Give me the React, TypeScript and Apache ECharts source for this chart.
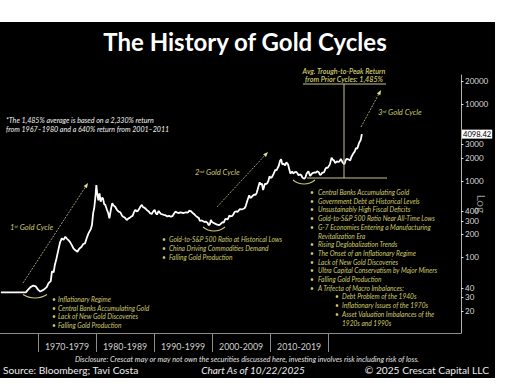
import React, { useEffect, useRef } from "react";
import * as echarts from "echarts";

// ---- data ----
const years = [
  1963.6, 1967.9, 1968.3, 1968.7, 1969.2, 1969.6, 1970.0, 1970.4, 1971.0, 1971.5, 1971.8, 1972.2, 1972.4, 1972.7, 1972.9,
  1973.2, 1973.5, 1973.8, 1974.1, 1974.4, 1974.7, 1975.0, 1975.2, 1975.5, 1975.8, 1976.1, 1976.4, 1976.8, 1977.1, 1977.5,
  1977.8, 1978.1, 1978.4, 1978.7, 1979.1, 1979.3, 1979.5, 1979.7, 1979.9, 1980.05, 1980.2, 1980.4, 1980.6, 1980.8, 1981.0,
  1981.2, 1981.4, 1981.6, 1981.9, 1982.1, 1982.3, 1982.6, 1982.8, 1983.0, 1983.3, 1983.6, 1983.9, 1984.2, 1984.5, 1984.7,
  1985.0, 1985.3, 1985.6, 1985.8, 1986.1, 1986.3, 1986.6, 1986.8, 1987.0, 1987.2, 1987.5, 1987.7, 1987.9, 1988.1, 1988.3,
  1988.6, 1988.8, 1989.1, 1989.3, 1989.6, 1989.8, 1990.1, 1990.3, 1990.5, 1990.8, 1991.0, 1991.2, 1991.5, 1991.7, 1992.0,
  1992.3, 1992.6, 1992.9, 1993.2, 1993.4, 1993.7, 1994.0, 1994.3, 1994.5, 1994.8, 1995.0, 1995.3, 1995.5, 1995.8, 1996.1,
  1996.4, 1996.6, 1996.9, 1997.2, 1997.5, 1997.7, 1997.9, 1998.2, 1998.4, 1998.7, 1998.9, 1999.2, 1999.4, 1999.6, 1999.8,
  2000.0, 2000.2, 2000.6, 2000.9, 2001.2, 2001.4, 2001.8, 2002.0, 2002.3, 2002.7, 2003.0, 2003.1, 2003.5, 2003.7, 2003.9,
  2004.2, 2004.4, 2004.8, 2005.0, 2005.3, 2005.6, 2005.8, 2006.1, 2006.4, 2006.6, 2006.8, 2007.0, 2007.3, 2007.5, 2007.7,
  2007.9, 2008.2, 2008.4, 2008.6, 2008.8, 2009.1, 2009.3, 2009.5, 2009.7, 2009.9, 2010.1, 2010.3, 2010.6, 2010.9, 2011.1,
  2011.3, 2011.5, 2011.7, 2011.9, 2012.1, 2012.3, 2012.6, 2012.8, 2013.1, 2013.3, 2013.5, 2013.8, 2014.0, 2014.2, 2014.5,
  2014.7, 2014.9, 2015.2, 2015.4, 2015.6, 2015.9, 2016.1, 2016.3, 2016.6, 2016.9, 2017.1, 2017.3, 2017.7, 2017.9, 2018.1,
  2018.4, 2018.6, 2018.8, 2019.0, 2019.3, 2019.5, 2019.7, 2019.9, 2020.1, 2020.3, 2020.6, 2020.8, 2021.0, 2021.2, 2021.5,
  2021.7, 2021.9, 2022.2, 2022.5, 2022.8, 2023.0, 2023.2, 2023.5, 2023.8, 2024.0, 2024.2, 2024.4, 2024.6, 2024.8, 2025.0,
  2025.2, 2025.3, 2025.5, 2025.6, 2025.7, 2025.81,
];
const prices = [
  35, 35, 38, 41, 43, 42, 38, 36, 38, 41, 46, 49, 66, 64, 80,
  98, 125, 158, 178, 170, 187, 175, 170, 160, 146, 132, 125, 119, 130, 138,
  150, 153, 180, 207, 235, 266, 378, 450, 623, 887, 700, 560, 690, 537, 600,
  592, 500, 485, 418, 380, 326, 440, 511, 480, 461, 420, 397, 390, 350, 341,
  330, 309, 325, 330, 345, 350, 400, 420, 400, 405, 440, 470, 485, 455, 450,
  430, 415, 400, 380, 370, 395, 420, 380, 365, 405, 385, 370, 365, 360, 355,
  345, 350, 340, 350, 370, 400, 385, 380, 390, 385, 380, 385, 390, 385, 410,
  400, 385, 370, 350, 335, 330, 300, 305, 300, 290, 295, 285, 265, 270, 310,
  290, 285, 275, 268, 265, 270, 290, 285, 320, 315, 355, 345, 350, 370, 395,
  400, 395, 430, 425, 430, 440, 470, 560, 650, 600, 615, 640, 665, 660, 700,
  800, 960, 900, 920, 760, 920, 910, 935, 1000, 1150, 1100, 1120, 1240, 1400, 1380,
  1480, 1580, 1830, 1920, 1650, 1680, 1600, 1760, 1640, 1420, 1250, 1330, 1250, 1300, 1320,
  1260, 1190, 1220, 1180, 1100, 1070, 1120, 1250, 1340, 1160, 1220, 1270, 1300, 1280, 1340,
  1300, 1200, 1220, 1290, 1300, 1420, 1500, 1480, 1560, 1650, 2020, 1900, 1860, 1720, 1800,
  1780, 1790, 1940, 1750, 1650, 1850, 1950, 1920, 1850, 2050, 2200, 2330, 2450, 2700, 2640,
  2900, 3100, 3320, 3400, 3700, 4098.42,
];
const lastPrice = 4098.42;
const yTickValues = [20, 30, 40, 100, 200, 300, 400, 1000, 2000, 3000, 10000, 20000];
const decadeStarts = [1970, 1980, 1990, 2000, 2010, 2020];
const decadeLabelYears = [1975, 1985, 1995, 2005, 2015];

const title = "The History of Gold Cycles";
const avgNote = ["Avg. Trough-to-Peak Return", "from Prior Cycles: 1,485%"];
const footnote = [
  "*The 1,485% average is based on a 2,330% return",
  "from 1967\u20131980 and a 640% return from 2001\u20132011",
];
const cycle1Bullets = [
  "Inflationary Regime",
  "Central Banks Accumulating Gold",
  "Lack of New Gold Discoveries",
  "Falling Gold Production",
];
const cycle2Bullets = [
  "Gold-to-S&P 500 Ratio at Historical Lows",
  "China Driving Commodities Demand",
  "Falling Gold Production",
];
const cycle3Lines = [
  { lvl: 0, b: true, t: "Central Banks Accumulating Gold" },
  { lvl: 0, b: true, t: "Government Debt at Historical Levels" },
  { lvl: 0, b: true, t: "Unsustainably High Fiscal Deficits" },
  { lvl: 0, b: true, t: "Gold-to-S&P 500 Ratio Near All-Time Lows" },
  { lvl: 0, b: true, t: "G-7 Economies Entering a Manufacturing" },
  { lvl: 0, b: false, t: "Revitalization Era" },
  { lvl: 0, b: true, t: "Rising Deglobalization Trends" },
  { lvl: 0, b: true, t: "The Onset of an Inflationary Regime" },
  { lvl: 0, b: true, t: "Lack of New Gold Discoveries" },
  { lvl: 0, b: true, t: "Ultra Capital Conservatism by Major Miners" },
  { lvl: 0, b: true, t: "Falling Gold Production" },
  { lvl: 0, b: true, t: "A Trifecta of Macro Imbalances:" },
  { lvl: 1, b: true, t: "Debt Problem of the 1940s" },
  { lvl: 1, b: true, t: "Inflationary Issues of the 1970s" },
  { lvl: 1, b: true, t: "Asset Valuation Imbalances of the" },
  { lvl: 1, b: false, t: "1920s and 1990s" },
];
const disclosure =
  "Disclosure: Crescat may or may not own the securities discussed here, investing involves risk including risk of loss.";
const sourceText = "Source: Bloomberg; Tavi Costa";
const asOfText = "Chart As of 10/22/2025";
const copyrightText = "\u00A9 2025 Crescat Capital LLC";

// ---- styles ----
const FONT = "Lato, 'Open Sans', sans-serif";
const YEL = "#cfca6c";
const LINEC = "#c8c48e";

function txt(x: number, y: number, text: string, o: any = {}) {
  const align = o.align || "left";
  return {
    type: "text",
    x,
    y,
    z: 100,
    style: {
      text,
      fill: o.fill || YEL,
      fontSize: o.size || 6.6,
      fontFamily: FONT,
      fontStyle: o.italic === false ? "normal" : "italic",
      fontWeight: o.weight || "normal",
      textAlign: align,
      align,
      textVerticalAlign: "middle",
      verticalAlign: "middle",
      rich: o.rich,
    },
  };
}

function arrow(x1: number, y1: number, x2: number, y2: number) {
  const a = Math.atan2(y2 - y1, x2 - x1);
  const L = 5;
  const W = 2;
  const bx = x2 - L * Math.cos(a);
  const by = y2 - L * Math.sin(a);
  const px = -Math.sin(a) * W;
  const py = Math.cos(a) * W;
  return [
    {
      type: "line",
      z: 100,
      shape: { x1, y1, x2: bx, y2: by },
      style: { stroke: LINEC, lineWidth: 0.8, lineDash: [2, 1.2] },
    },
    {
      type: "polygon",
      z: 100,
      shape: { points: [[x2, y2], [bx + px, by + py], [bx - px, by - py]] },
      style: { fill: "#e0dc90" },
    },
  ];
}

function smile(cx: number, bottom: number, halfW: number, sag: number) {
  const r = (halfW * halfW + sag * sag) / (2 * sag);
  const half = Math.asin(halfW / r);
  return {
    type: "arc",
    z: 100,
    shape: { cx, cy: bottom - r, r, startAngle: Math.PI / 2 - half, endAngle: Math.PI / 2 + half },
    style: { stroke: YEL, lineWidth: 1.1, fill: null },
  };
}

function cycleLabel(x: number, y: number, n: string, sup: string) {
  return txt(x, y, `{n|${n}}{s|${sup}}{n| Gold Cycle}`, {
    rich: {
      n: { fontSize: 7.6, fill: YEL, color: YEL, fontStyle: "italic", fontFamily: FONT },
      s: { fontSize: 4.6, fill: YEL, color: YEL, fontStyle: "italic", fontFamily: FONT, verticalAlign: "top", padding: [0, 0, 3, 0] },
    },
  });
}

function buildGraphics() {
  const els: any[] = [];
  els.push({ type: "rect", z: -100, shape: { x: 0, y: 22, width: 495, height: 356 }, style: { fill: "#000" } });
  els.push(txt(245, 41, title, { fill: "#ffffff", size: 24, weight: "bold", italic: false, align: "center" }));
  els.push(txt(344, 71, avgNote[0], { size: 7.2, align: "center", weight: 600 }));
  els.push(txt(344, 79.5, avgNote[1], { size: 7.2, align: "center", weight: 600 }));
  footnote.forEach((f, i) => els.push(txt(6, 120 + i * 9, f, { fill: "#f2f2f2", size: 7.1 })));
  // annotation lines
  const ln = (x1: number, y1: number, x2: number, y2: number) => ({
    type: "line",
    z: 100,
    shape: { x1, y1, x2, y2 },
    style: { stroke: LINEC, lineWidth: 1 },
  });
  els.push(ln(303, 84, 386, 84));
  els.push(ln(344, 84, 344, 178));
  els.push(ln(307, 178, 387, 178));
  els.push(...arrow(23, 283, 88, 183));
  els.push(...arrow(217, 207, 268, 152));
  els.push(...arrow(361, 127, 381, 90));
  els.push(smile(35, 298, 12, 3.5));
  els.push(smile(214, 231, 11, 4));
  els.push(smile(304, 184, 11, 4));
  els.push(cycleLabel(10, 227, "1", "st"));
  els.push(cycleLabel(195, 172, "2", "nd"));
  els.push(cycleLabel(378, 112, "3", "rd"));
  cycle1Bullets.forEach((t, i) => {
    const y = 299 + i * 8.7;
    els.push(txt(52, y, "\u2022", { italic: false }));
    els.push(txt(58, y, t));
  });
  cycle2Bullets.forEach((t, i) => {
    const y = 239 + i * 8.8;
    els.push(txt(162, y, "\u2022", { italic: false }));
    els.push(txt(169, y, t));
  });
  cycle3Lines.forEach((l, i) => {
    const y = 192 + i * 8.7;
    const bx = l.lvl === 0 ? 310 : 335;
    const tx = l.lvl === 0 ? 318 : 342;
    if (l.b) els.push(txt(bx, y, "\u2022", { italic: false }));
    els.push(txt(tx, y, l.t));
  });
  els.push(txt(247, 359, disclosure, { fill: "#e0e0e0", size: 7.4, align: "center" }));
  els.push(txt(3, 369.5, sourceText, { fill: "#ececec", size: 10.2, italic: false }));
  els.push(txt(253, 369.5, asOfText, { fill: "#ececec", size: 10, align: "center" }));
  els.push(txt(489, 369.5, copyrightText, { fill: "#ececec", size: 10.2, italic: false, align: "right" }));
  return els;
}

export default function App() {
  const ref = useRef<HTMLDivElement>(null);
  useEffect(() => {
    if (!ref.current) return;
    const chart = echarts.init(ref.current, null, { renderer: "svg" });
    const option: any = {
      animation: false,
      backgroundColor: "#ffffff",
      grid: { left: 0, right: 45, top: 75, bottom: 57, containLabel: false, outerBoundsMode: "none" },
      xAxis: {
        type: "value",
        min: 1963.45,
        max: 2042.9,
        splitLine: { show: false },
        axisLine: { show: true, lineStyle: { color: "#8c8c8c", width: 1 } },
        axisTick: { show: true, customValues: decadeStarts, length: 19, lineStyle: { color: "#8c8c8c", width: 1 } },
        axisLabel: {
          show: true,
          customValues: decadeLabelYears,
          formatter: (v: number) => `${v - 5}-${v + 4}`,
          color: "#d0d0d0",
          fontSize: 8.8,
          fontFamily: FONT,
          margin: 9,
        },
      },
      yAxis: {
        type: "log",
        logBase: 10,
        position: "right",
        min: 10.3,
        max: 24300,
        name: "Log",
        nameLocation: "middle",
        nameRotate: -90,
        nameGap: 14,
        nameMoveOverlap: false,
        nameTextStyle: { color: "#8a8a8a", fontSize: 12, fontFamily: FONT },
        splitLine: { show: false },
        axisLine: { show: true, lineStyle: { color: "#b0b0b0", width: 1 } },
        axisTick: { show: true, customValues: yTickValues, length: 2.5, lineStyle: { color: "#dddddd", width: 1 } },
        axisLabel: {
          show: true,
          customValues: yTickValues,
          formatter: (v: number) => String(v),
          color: "#dcdcdc",
          fontSize: 8,
          fontFamily: FONT,
          margin: 4,
        },
      },
      series: [
        {
          type: "line",
          data: years.map((y, i) => [y, prices[i]]),
          showSymbol: false,
          symbol: "none",
          lineStyle: { color: "#ffffff", width: 1.8 },
          itemStyle: { color: "#ffffff" },
          z: 5,
          markLine: {
            silent: true,
            symbol: "none",
            data: [{ yAxis: lastPrice }],
            lineStyle: { color: "rgba(0,0,0,0)", width: 0 },
            label: {
              show: true,
              position: "end",
              formatter: () => String(lastPrice),
              backgroundColor: "#ffffff",
              color: "#000000",
              fontSize: 7.6,
              fontFamily: FONT,
              padding: [1, 1, 0, 1],
              distance: 1,
            },
          },
        },
      ],
      graphic: buildGraphics(),
    };
    chart.setOption(option);
    return () => chart.dispose();
  }, []);
  return (
    <div
      ref={ref}
      style={{ position: "fixed", left: 0, top: 0, width: 506, height: 390, background: "#ffffff" }}
    />
  );
}
